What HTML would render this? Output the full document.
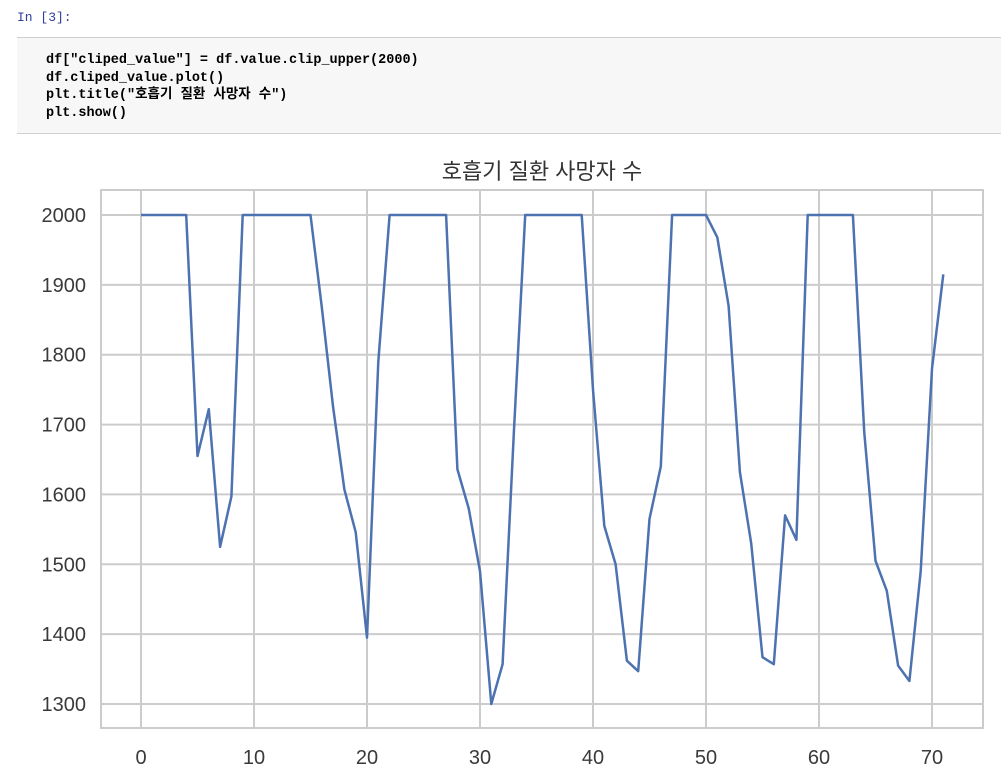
<!DOCTYPE html>
<html><head><meta charset="utf-8"><style>
body{margin:0;width:1001px;height:778px;background:#fff;overflow:hidden;position:relative;font-family:"Liberation Sans","Noto Sans CJK KR",sans-serif}
.prompt{position:absolute;left:17px;top:10px;font:13px "Liberation Mono",monospace;color:#303F9F}
.code{position:absolute;left:17px;top:37px;width:984px;height:95px;background:#f7f7f7;border-top:1px solid #cfcfcf;border-bottom:1px solid #cfcfcf}
.code pre{margin:0;position:absolute;left:29px;top:14px;font:bold 13.5px/17.6px "Liberation Mono","Noto Sans CJK KR",monospace;color:#000}
</style></head><body>
<div class="prompt">In [3]:</div>
<div class="code"><pre>df["cliped_value"] = df.value.clip_upper(2000)
df.cliped_value.plot()
plt.title("호흡기 질환 사망자 수")
plt.show()</pre></div>
<svg id="chart" width="1001" height="778" style="position:absolute;left:0;top:0"></svg>
<script>
const yvals=[2000,2000,2000,2000,2000,1655,1722,1525,1597,2000,2000,2000,2000,2000,2000,2000,1868,1725,1607,1546,1395,1790,2000,2000,2000,2000,2000,2000,1636,1580,1490,1300,1357,1690,2000,2000,2000,2000,2000,2000,1750,1555,1500,1362,1347,1565,1640,2000,2000,2000,2000,1968,1870,1632,1530,1367,1357,1570,1535,2000,2000,2000,2000,2000,1690,1505,1462,1355,1333,1490,1780,1915];
const xticks=[0,10,20,30,40,50,60,70];
const yticks=[1300,1400,1500,1600,1700,1800,1900,2000];
const NS='http://www.w3.org/2000/svg';
const svg=document.getElementById('chart');
const L=101,R=983,T=190,B=728;
const sx=v=>141+v*(932-141)/70;
const sy=v=>215+(2000-v)*(704-215)/700;
function mk(t,a){const e=document.createElementNS(NS,t);for(const k in a)e.setAttribute(k,a[k]);svg.appendChild(e);return e;}
const bg=mk('rect',{x:L,y:T,width:R-L,height:B-T,fill:'#fff',stroke:'#cccccc','stroke-width':2});


xticks.forEach(v=>{const g=mk('line',{x1:sx(v),x2:sx(v),y1:T,y2:B,stroke:'#cccccc','stroke-width':2});


const t=mk('text',{x:sx(v),y:764,'text-anchor':'middle','font-size':20,fill:'#3a3a3a'});t.textContent=v;

});
yticks.forEach(v=>{const g=mk('line',{x1:L,x2:R,y1:sy(v),y2:sy(v),stroke:'#cccccc','stroke-width':2});


const t=mk('text',{x:86,y:sy(v)+7,'text-anchor':'end','font-size':20,fill:'#3a3a3a'});t.textContent=v;

});
const p=mk('polyline',{points:yvals.map((v,i)=>sx(i)+','+sy(v)).join(' '),fill:'none',stroke:'#4c72b0','stroke-width':2.5,'stroke-linejoin':'round'});


const tt=mk('text',{x:542,y:179,'text-anchor':'middle','font-size':22,fill:'#333'});tt.textContent='호흡기 질환 사망자 수';


</script>
</body></html>
